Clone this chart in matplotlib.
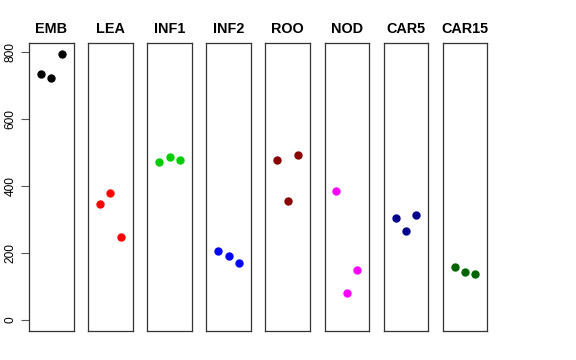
import matplotlib
matplotlib.use('Agg')
import matplotlib.pyplot as plt

plt.rcParams['font.family'] = ['Liberation Sans', 'DejaVu Sans']

gruppen = ['EMB', 'LEA', 'INF1', 'INF2', 'ROO', 'NOD', 'CAR5', 'CAR15']
farben = ['black', 'red', '#00CD00', 'blue', '#8B0000', 'magenta', '#00008B', '#006400']
werte = [
    [733, 721, 795],
    [345, 379, 248],
    [472, 486, 478],
    [205, 190, 169],
    [479, 356, 493],
    [384, 79, 150],
    [304, 265, 313],
    [157, 142, 136],
]
x = [1, 2, 3]
yticks = [0, 200, 400, 600, 800]

fig = plt.figure(figsize=(5.76, 3.6), dpi=100)
W, H = 576.0, 360.0

for i in range(len(gruppen)):
    links = 29 + i * 59.1
    ax = fig.add_axes([links / W, 1 - 331 / H, 44.6 / W, 288 / H])
    ax.plot(x, werte[i], 'o', color=farben[i], ms=5)
    ax.set_xlim(-0.16, 4.16)
    ax.set_ylim(-33, 827)
    ax.set_xticks([])
    for s in ax.spines.values():
        s.set_color('#333333')
        s.set_linewidth(0.9)
    ax.set_title(gruppen[i], fontsize=10.4, fontweight='bold', pad=7)
    if i == 0:
        ax.set_yticks(yticks)
        ax.set_yticklabels([str(t) for t in yticks], rotation=90, va='center', fontsize=8.6)
        ax.tick_params(axis='y', length=6, color='#555555', pad=3)
    else:
        ax.set_yticks([])

fig.savefig('out.png', dpi=100)
